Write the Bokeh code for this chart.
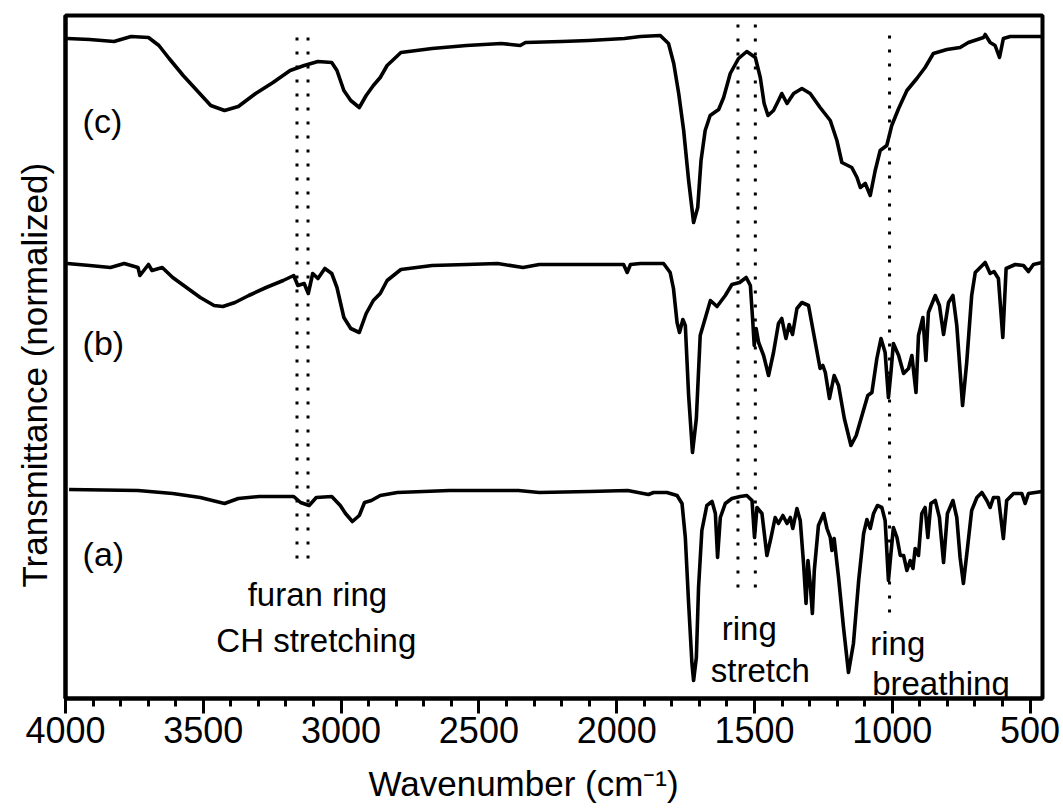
from bokeh.plotting import figure
from bokeh.models import Range1d, FixedTicker, Title
from bokeh.core.properties import value
from bokeh.embed import file_html
from bokeh.resources import INLINE

# ---------------- data ----------------
# spectrum (c), wavenumber (cm-1) and stacked transmittance (a.u.)
wn_c = [3994, 3912, 3824, 3762, 3699, 3661, 3624, 3573, 3523, 3473, 3423, 3373, 3310, 3247,
        3185, 3134, 3084, 3034, 3015, 2990, 2965, 2934, 2909, 2883, 2858, 2833, 2783, 2670,
        2545, 2419, 2350, 2331, 2200, 2100, 1972, 1914, 1842, 1812, 1793, 1775, 1757, 1739,
        1721, 1706, 1694, 1679, 1661, 1630, 1612, 1588, 1558, 1528, 1497, 1479, 1465, 1451,
        1431, 1413, 1401, 1382, 1358, 1328, 1298, 1262, 1225, 1201, 1183, 1147, 1128, 1116,
        1098, 1080, 1062, 1044, 1020, 1002, 977, 947, 911, 881, 851, 802, 754, 724, 669, 663,
        645, 627, 611, 597, 572, 457]
t_c = [660, 659, 657, 662, 661, 653, 640, 623, 608, 593, 588, 592, 605, 616,
       628, 633, 637, 636, 628, 608, 598, 591, 603, 613, 621, 633, 646, 650,
       653, 655, 653, 656, 657, 658, 660, 662, 663, 655, 635, 605, 568, 518,
       476, 491, 538, 568, 583, 589, 601, 625, 640, 647, 641, 621, 595, 583,
       588, 598, 605, 595, 605, 610, 605, 591, 578, 558, 536, 531, 521, 511,
       515, 503, 528, 548, 553, 573, 590, 608, 620, 631, 645, 649, 651, 656, 661, 664,
       656, 653, 641, 660, 662, 662]

# spectrum (b)
wn_b = [3994, 3912, 3837, 3787, 3737, 3730, 3699, 3686, 3649, 3611, 3561, 3511, 3461, 3429,
        3385, 3335, 3272, 3210, 3172, 3157, 3134, 3119, 3103, 3084, 3059, 3034, 3015, 2990,
        2965, 2934, 2909, 2883, 2858, 2833, 2783, 2670, 2545, 2432, 2340, 2281, 2100, 1975,
        1962, 1950, 1914, 1830, 1806, 1794, 1781, 1772, 1760, 1751, 1739, 1725, 1711, 1697,
        1679, 1660, 1636, 1606, 1582, 1554, 1530, 1515, 1506, 1501, 1494, 1485, 1467, 1449,
        1431, 1413, 1401, 1386, 1374, 1362, 1346, 1328, 1304, 1286, 1262, 1252, 1243, 1228,
        1211, 1195, 1174, 1150, 1131, 1110, 1089, 1074, 1056, 1041, 1026, 1014, 1005, 996,
        977, 959, 941, 929, 914, 905, 889, 878, 869, 844, 829, 814, 796, 780, 766, 745, 730,
        712, 699, 663, 645, 631, 615, 599, 587, 554, 524, 506, 488, 457]
t_b = [435, 433, 431, 435, 431, 423, 434, 428, 431, 421, 411, 401, 393, 392,
       396, 403, 411, 418, 423, 413, 415, 405, 425, 420, 430, 425, 411, 381,
       370, 366, 385, 398, 405, 418, 429, 433, 434, 435, 431, 434, 434, 434,
       426, 434, 435, 435, 426, 410, 376, 366, 379, 373, 303, 246, 280, 363,
       380, 398, 392, 403, 414, 416, 421, 413, 376, 353, 370, 356, 343, 323,
       346, 375, 380, 360, 374, 364, 390, 396, 393, 366, 330, 333, 326, 300,
       323, 313, 280, 253, 263, 283, 303, 306, 340, 360, 346, 301, 326, 355,
       343, 325, 330, 343, 306, 363, 381, 338, 386, 403, 393, 364, 396, 403, 373, 293, 336,
       403, 426, 436, 425, 427, 420, 361, 430, 434, 433, 427, 434, 436]

# spectrum (a)
wn_a = [3987, 3737, 3611, 3511, 3423, 3373, 3297, 3172, 3147, 3116, 3090, 3034, 3003, 2984,
        2959, 2934, 2915, 2890, 2858, 2796, 2607, 2357, 2281, 2100, 1960, 1885, 1866, 1818,
        1781, 1763, 1751, 1739, 1727, 1721, 1711, 1703, 1691, 1673, 1654, 1642, 1634, 1624,
        1606, 1582, 1552, 1528, 1509, 1500, 1491, 1473, 1455, 1440, 1425, 1413, 1397, 1382,
        1370, 1361, 1346, 1334, 1322, 1313, 1306, 1298, 1290, 1283, 1268, 1249, 1237, 1225,
        1219, 1211, 1195, 1177, 1159, 1141, 1122, 1104, 1092, 1080, 1068, 1054, 1038, 1026,
        1014, 1005, 996, 983, 971, 959, 947, 935, 925, 917, 905, 893, 881, 871, 860, 844,
        829, 814, 800, 780, 766, 754, 742, 727, 712, 693, 675, 657, 645, 633, 615, 597, 585,
        560, 530, 518, 506, 457]
t_a = [209, 208, 205, 201, 195, 200, 202, 202, 196, 193, 201, 202, 193, 185,
       177, 183, 196, 198, 203, 206, 208, 208, 206, 207, 208, 204, 206, 206,
       203, 195, 161, 95, 35, 18, 41, 111, 168, 193, 197, 185, 141, 181,
       195, 200, 202, 203, 198, 161, 191, 185, 143, 161, 181, 175, 183, 175,
       181, 170, 190, 178, 135, 95, 138, 115, 85, 128, 173, 185, 170, 161,
       148, 160, 121, 71, 26, 55, 118, 165, 179, 170, 185, 193, 191, 178,
       118, 145, 171, 161, 143, 143, 128, 138, 130, 150, 143, 185, 191, 161, 195, 198,
       181, 136, 185, 198, 181, 141, 115, 151, 188, 201, 206, 198, 191, 201, 201, 160, 198,
       205, 205, 195, 205, 207]

# marked band positions (cm-1) and the dotted-marker spans (a.u.)
band_wn = [3160, 3120, 1560, 1497, 1010]
band_top = [670, 670, 680, 680, 671]
band_bottom = [140, 140, 111, 111, 86]

# tick values
major_ticks = [4000, 3500, 3000, 2500, 2000, 1500, 1000, 500]
minor_ticks = list(range(4000, 455, -100))

# trace labels and band annotations
trace_labels = ["(c)", "(b)", "(a)"]
trace_label_x = [3938, 3938, 3938]
trace_label_y = [578, 356, 145]

center_notes = ["furan ring", "CH stretching", "ring", "stretch"]
center_notes_x = [3086, 3090, 1519, 1479]
center_notes_y = [104, 58, 70, 28]

left_notes = ["ring", "breathing"]
left_notes_x = [1080, 1073]
left_notes_y = [55, 15]

FONT = "Liberation Sans"

# ---------------- figure ----------------
p = figure(frame_width=977, frame_height=683,
           min_border_left=65, min_border_right=21, min_border_top=15, min_border_bottom=110,
           x_range=Range1d(4000, 455), y_range=Range1d(0, 683),
           output_backend="svg", toolbar_location=None,
           background_fill_color="white", border_fill_color="white")

p.grid.visible = False
p.outline_line_color = "black"
p.outline_line_width = 4

# bottom axis
xa = p.xaxis[0]
xa.ticker = FixedTicker(ticks=major_ticks, minor_ticks=minor_ticks)
xa.axis_line_width = 4
xa.major_tick_in = 0
xa.major_tick_out = 15
xa.major_tick_line_width = 3
xa.minor_tick_in = 0
xa.minor_tick_out = 8
xa.minor_tick_line_width = 3
xa.major_label_text_font = FONT
xa.major_label_text_font_size = "36px"
xa.major_label_text_color = "black"
xa.major_label_standoff = 3

# x title as a below-title so it can be shifted like in the reference
p.add_layout(Title(text="Wavenumber (cm\u207b\u00b9)", text_font=FONT, text_font_size="35px",
                   text_font_style="normal", text_color="black",
                   align="left", offset=303, standoff=33), "below")

# left axis (no ticks, no labels)
ya = p.yaxis[0]
ya.ticker = FixedTicker(ticks=[])
ya.axis_line_width = 4
ya.major_tick_in = 0
ya.major_tick_out = 0
ya.minor_tick_in = 0
ya.minor_tick_out = 0

# y title, shifted like in the reference
p.add_layout(Title(text="Transmittance (normalized)", text_font=FONT, text_font_size="35px",
                   text_font_style="normal", text_color="black",
                   align="left", offset=111, standoff=23), "left")

# dotted band markers
p.segment(x0=band_wn, y0=band_bottom, x1=band_wn, y1=band_top,
          line_color="black", line_width=3, line_dash="3 11")

# spectra
for wn, t in ((wn_a, t_a), (wn_b, t_b), (wn_c, t_c)):
    p.line(wn, t, line_color="black", line_width=3.6, line_join="round")

# labels
p.text(x=trace_label_x, y=trace_label_y, text=trace_labels,
       text_font=value(FONT), text_font_size="34px", text_color="black",
       text_align="left", text_baseline="alphabetic")
p.text(x=center_notes_x, y=center_notes_y, text=center_notes,
       text_font=value(FONT), text_font_size="33px", text_color="black",
       text_align="center", text_baseline="alphabetic")
p.text(x=left_notes_x, y=left_notes_y, text=left_notes,
       text_font=value(FONT), text_font_size="33px", text_color="black",
       text_align="left", text_baseline="alphabetic")

open("out.html", "w").write(file_html(p, INLINE))
